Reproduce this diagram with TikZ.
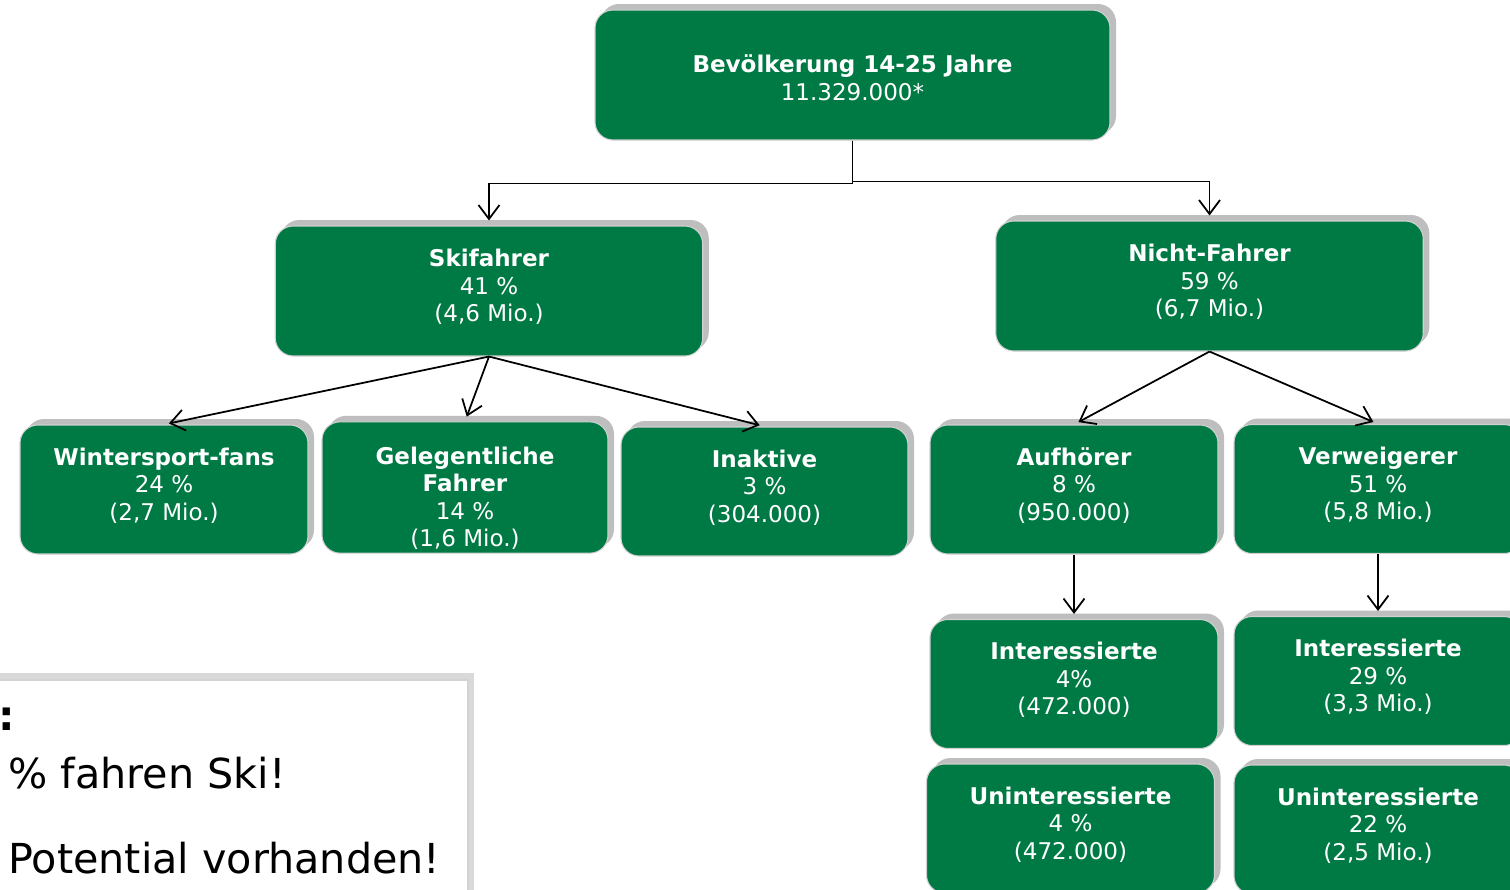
\documentclass[tikz,border=0pt]{standalone}
\usepackage{fontspec}
\setmainfont{DejaVu Sans}
\usetikzlibrary{arrows.meta,shadows}
\definecolor{skigreen}{RGB}{0,122,69}
\definecolor{shadowgray}{RGB}{190,190,190}

\begin{document}
\begin{tikzpicture}[font=\fontsize{13.1}{15.65}\selectfont,
    base/.style={rounded corners=0.36cm, fill=skigreen, draw=shadowgray!70, line width=0.6pt,
      text=white, align=center, minimum width=5.76cm, minimum height=2.58cm, inner sep=2pt,
      drop shadow={shadow xshift=0.12cm, shadow yshift=0.12cm, fill=shadowgray, opacity=1}},
    box/.style={base, execute at end node={\rule[-6.3pt]{0pt}{0pt}}},
    wide/.style={box, minimum width=8.55cm, minimum height=2.6cm},
    drop/.style={base, execute at begin node={\rule{0pt}{#1}}},
    arr/.style={-{Straight Barb[length=0.28cm, width=0.42cm]}, line width=1pt, shorten >=0.1cm},
    big/.style={font=\fontsize{23.5}{28}\selectfont, anchor=base west, inner sep=0pt}]
  \useasboundingbox (0,0) rectangle (30.2,-17.78);
  \path[fill=white, draw=gray!35, line width=1.5pt,
        drop shadow={shadow xshift=0.12cm, shadow yshift=0.14cm, fill=gray!30, opacity=1}]
        (-2,-13.6) rectangle (9.36,-18.6);
  \path node (B)   at (17.05,-1.5)   [drop=29pt, minimum width=10.3cm, minimum height=2.6cm]
                   {\textbf{Bevölkerung 14-25 Jahre}\\11.329.000*}
        node (S)   at (9.78,-5.82)   [wide] {\textbf{Skifahrer}\\41 \%\\(4,6 Mio.)}
        node (N)   at (24.19,-5.72)  [wide] {\textbf{Nicht-Fahrer}\\59 \%\\(6,7 Mio.)}
        node (SW)  at (3.28,-9.79)   [box] {\textbf{Wintersport-fans}\\24 \%\\(2,7 Mio.)}
        node (SG)  at (9.3,-9.75)    [drop=69pt, minimum width=5.72cm]
                   {\textbf{Gelegentliche}\\\textbf{Fahrer}\\14 \%\\(1,6 Mio.)}
        node (SI)  at (15.29,-9.83)  [box, minimum width=5.74cm] {\textbf{Inaktive}\\3 \%\\(304.000)}
        node (NA)  at (21.48,-9.79)  [box] {\textbf{Aufhörer}\\8 \%\\(950.000)}
        node (NV)  at (27.56,-9.78)  [box] {\textbf{Verweigerer}\\51 \%\\(5,8 Mio.)}
        node (NAi) at (21.48,-13.68) [box] {\textbf{Interessierte}\\4\%\\(472.000)}
        node (NVi) at (27.56,-13.62) [box] {\textbf{Interessierte}\\29 \%\\(3,3 Mio.)}
        node (NAu) at (21.41,-16.57) [box] {\textbf{Uninteressierte}\\4 \%\\(472.000)}
        node (NVu) at (27.56,-16.59) [box] {\textbf{Uninteressierte}\\22 \%\\(2,5 Mio.)}
        node (F1)  at (-0.04,-14.6)  [big] {\bfseries :}
        node (F2)  at (0.16,-15.76)  [big] {\% fahren Ski!}
        node (F3)  at (0.16,-17.46)  [big] {Potential vorhanden!};
  \draw[arr] (B.south) -- ++(0,-0.86) -| (S.north);
  \draw[arr] (B.south) -- ++(0,-0.82) -| (N.north);
  \draw[arr] (S.south) -- (SW.north);
  \draw[arr] (S.south) -- (SG.north);
  \draw[arr] (S.south) -- (SI.north);
  \draw[arr] (N.south) -- (NA.north);
  \draw[arr] (N.south) -- (NV.north);
  \draw[arr] (NA.south) -- (NAi.north);
  \draw[arr] (NV.south) -- (NVi.north);
\end{tikzpicture}
\end{document}
